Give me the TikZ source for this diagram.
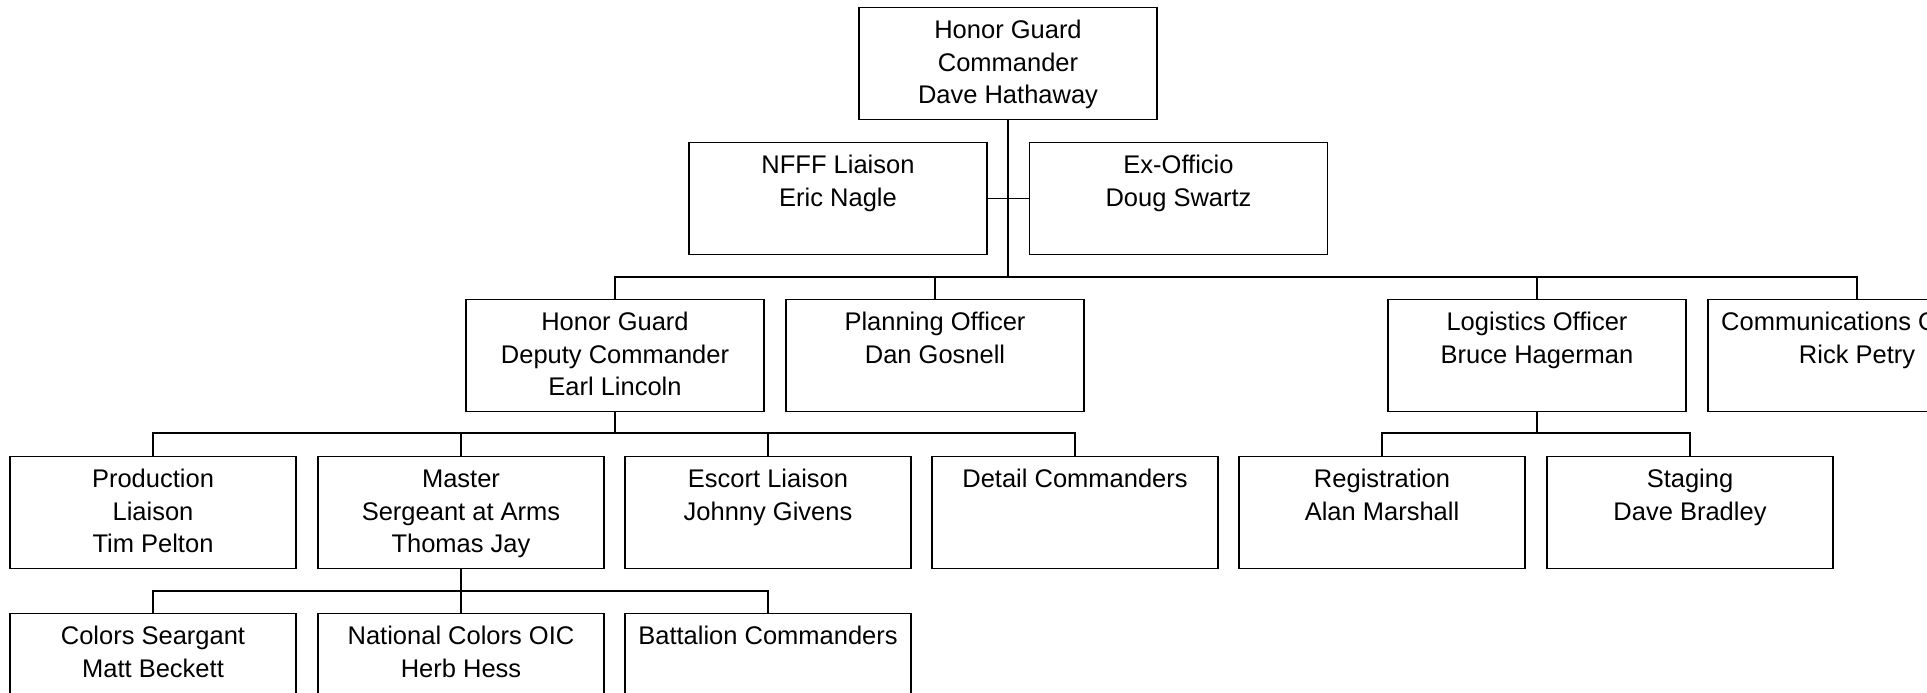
\documentclass[tikz,border=0pt]{standalone}
\usepackage{fontspec}
\setmainfont{Liberation Sans}
\usepackage{tikz}
\newlength{\postwd}
\setlength{\postwd}{142pt}
\newcommand{\posttext}[1]{\parbox[c][56pt][t]{\postwd}{\centering\fontsize{12.75pt}{16.2pt}\selectfont\rule{0pt}{15.5pt}#1}}

\begin{document}
\begin{tikzpicture}[x=0.5pt, y=0.5pt, line width=0.7pt,
  post/.style={draw, anchor=north, inner sep=0pt, minimum width=149pt, minimum height=56pt},
  unit/.style={post, minimum width=143pt}]
  \clip (0, 0) rectangle (1927, -692);

  \node[post] (cmdr) at (1008, -7) {\posttext{Honor Guard\\Commander\\Dave Hathaway}};
  \node[post] (nfff) at (838, -142) {\posttext{NFFF Liaison\\Eric Nagle}};
  \node[post] (exofficio) at (1178.5, -142) {\posttext{Ex-Officio\\Doug Swartz}};

  \node[post] (deputy) at (615, -299) {\posttext{Honor Guard\\Deputy Commander\\Earl Lincoln}};
  \node[post] (planning) at (935, -299) {\posttext{Planning Officer\\Dan Gosnell}};
  \node[post] (logistics) at (1537, -299) {\posttext{Logistics Officer\\Bruce Hagerman}};
  \node[post] (comms) at (1857, -299) {\posttext{Communications Officer\\Rick Petry}};

  \node[unit] (production) at (153, -456) {\posttext{Production\\Liaison\\Tim Pelton}};
  \node[unit] (master) at (461, -456) {\posttext{Master\\Sergeant at Arms\\Thomas Jay}};
  \node[unit] (escort) at (768, -456) {\posttext{Escort Liaison\\Johnny Givens}};
  \node[unit] (detail) at (1075, -456) {\posttext{Detail Commanders}};
  \node[unit] (registration) at (1382, -456) {\posttext{Registration\\Alan Marshall}};
  \node[unit] (staging) at (1690, -456) {\posttext{Staging\\Dave Bradley}};

  \node[unit] (colors) at (153, -613) {\posttext{Colors Seargant\\Matt Beckett}};
  \node[unit] (national) at (461, -613) {\posttext{National Colors OIC\\Herb Hess}};
  \node[unit] (battalion) at (768, -613) {\posttext{Battalion Commanders}};

  \coordinate (bus1) at (0, -277);
  \coordinate (bus2) at (0, -433);
  \coordinate (bus3) at (0, -591);

  \draw (cmdr.south) -- (cmdr.south |- bus1);
  \draw (nfff.east) -- (exofficio.west);
  \draw (deputy.north) |- (comms.north |- bus1) -- (comms.north);
  \foreach \n in {planning, logistics}
    \draw (\n.north) -- (\n.north |- bus1);

  \draw (deputy.south) -- (deputy.south |- bus2);
  \draw (production.north) |- (detail.north |- bus2) -- (detail.north);
  \foreach \n in {master, escort}
    \draw (\n.north) -- (\n.north |- bus2);
  \draw (logistics.south) -- (logistics.south |- bus2);
  \draw (registration.north) |- (staging.north |- bus2) -- (staging.north);

  \draw (master.south) -- (master.south |- bus3);
  \draw (colors.north) |- (battalion.north |- bus3) -- (battalion.north);
  \draw (national.north) -- (national.north |- bus3);
\end{tikzpicture}
\end{document}
